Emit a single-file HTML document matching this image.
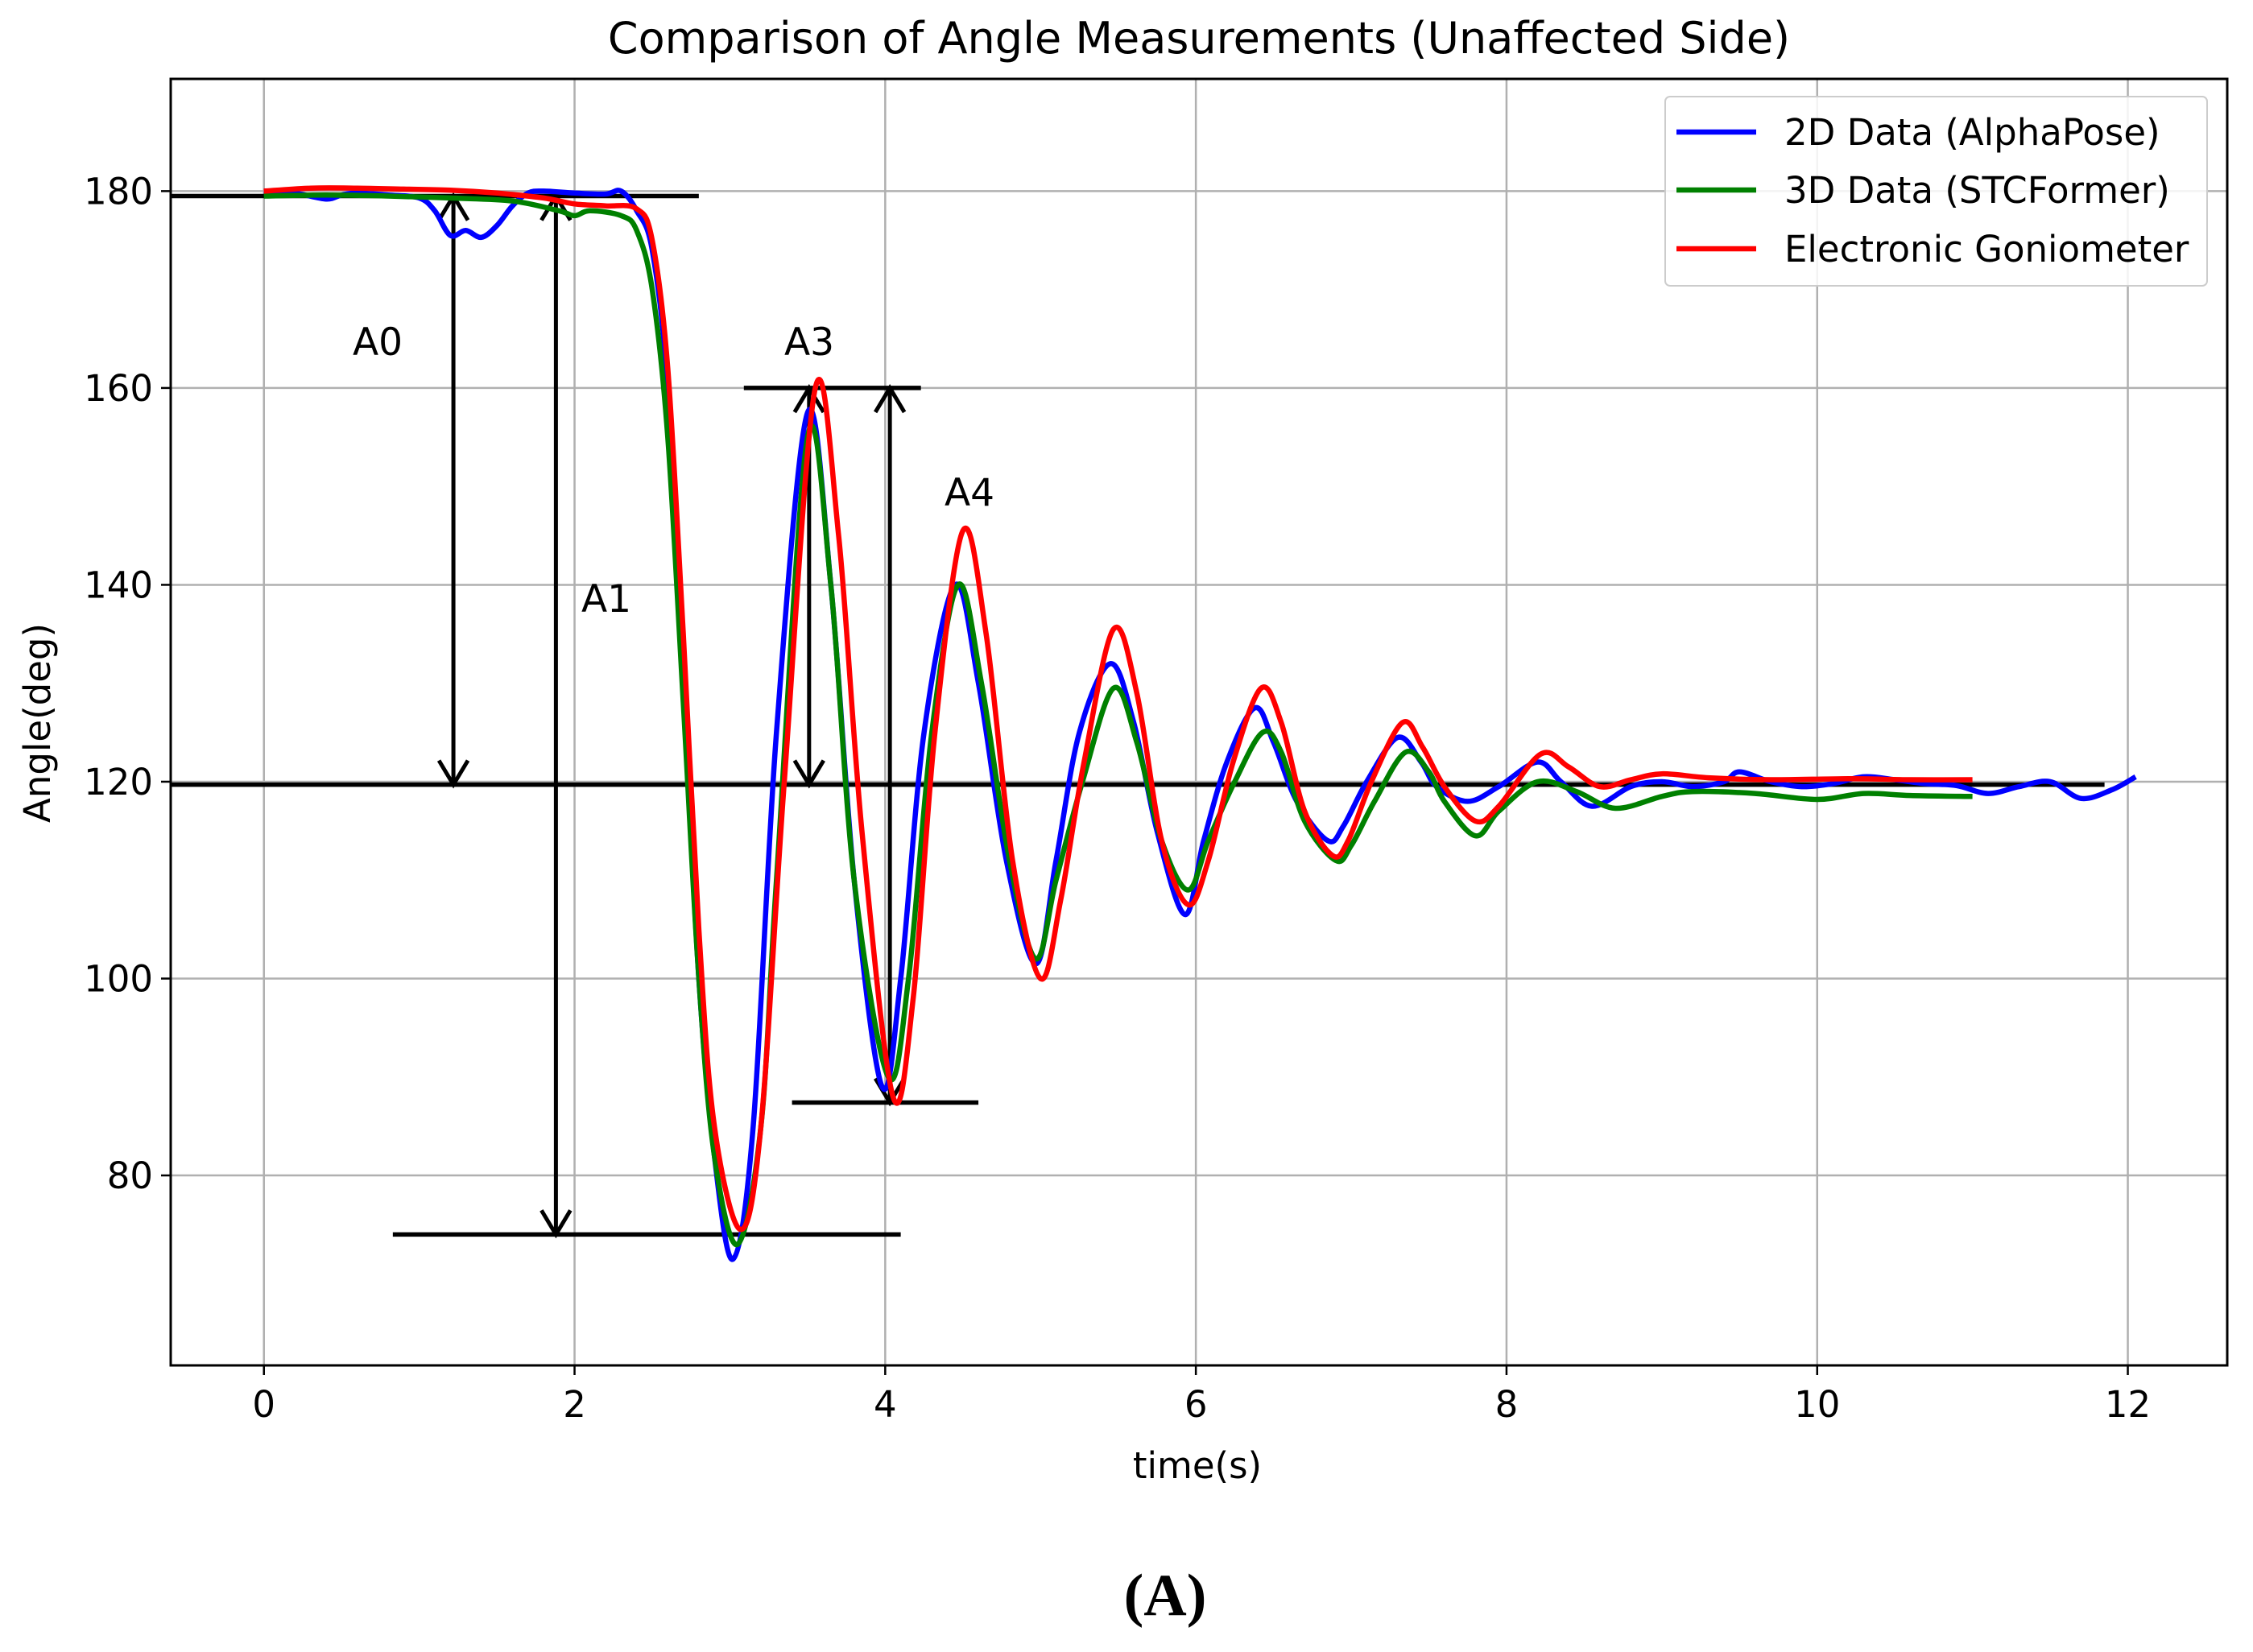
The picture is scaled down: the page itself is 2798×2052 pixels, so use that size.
<!DOCTYPE html>
<html><head><meta charset="utf-8"><style>
html,body{margin:0;padding:0;background:#fff;}
svg{display:block;}
text{font-family:"DejaVu Sans","Liberation Sans",sans-serif;}
</style></head><body>
<svg id="chart" width="2798" height="2052" viewBox="0 0 2798 2052" xmlns="http://www.w3.org/2000/svg">
<rect width="2798" height="2052" fill="#fff"/>
<g id="grid"></g>
<g id="annot"></g>
<g id="series"></g>
<rect x="212" y="98" width="2554" height="1598" fill="none" stroke="#000" stroke-width="3"/>
<g id="ticks"></g>
<text x="1489" y="66" font-size="54" text-anchor="middle">Comparison of Angle Measurements (Unaffected Side)</text>
<text x="1487" y="1836" font-size="45" text-anchor="middle">time(s)</text>
<text x="0" y="0" font-size="45" text-anchor="middle" transform="translate(62,898) rotate(-90)">Angle(deg)</text>
<text x="1447" y="2006" font-size="74" font-weight="bold" text-anchor="middle" style="font-family:'Liberation Serif',serif">(A)</text>
<g id="legend">
<rect x="2068" y="120" width="673" height="235" rx="6" fill="#fff" fill-opacity="0.85" stroke="#ccc" stroke-width="2"/>
</g>
</svg>
<script>
const xTicks=[0,2,4,6,8,10,12];
const yTicks=[80,100,120,140,160,180];
const blueT=[0,0.2,0.4,0.5,0.6,0.8,1.0,1.1,1.2,1.3,1.4,1.5,1.6,1.7,1.8,2.0,2.2,2.3,2.4,2.5,2.6,2.7,2.8,2.9,3.02,3.15,3.3,3.5,3.65,3.8,3.98,4.1,4.25,4.45,4.6,4.78,4.97,5.1,5.25,5.45,5.6,5.75,5.93,6.05,6.2,6.38,6.5,6.65,6.85,6.95,7.1,7.3,7.45,7.55,7.75,7.95,8.2,8.35,8.55,8.8,9.0,9.2,9.4,9.5,9.7,9.9,10.1,10.3,10.5,10.7,10.9,11.1,11.3,11.5,11.7,11.9,12.05];
const blueV=[180,179.8,179.2,179.6,179.8,179.6,179.3,178,175.5,176,175.3,176.5,178.5,179.8,180,179.8,179.7,180,178,174,160,130,100,82,71.5,85,125,157.5,140,110,89,100,125,140,130,112,101.5,112,125,132,126,115,106.5,114,122,127.5,124,118,114,115.5,120,124.5,122,119.5,118,119.5,122,120,117.5,119.5,120,119.5,120,121,120,119.5,119.8,120.5,120.2,119.8,119.6,118.8,119.5,120,118.3,119.2,120.5];
const greenT=[0,0.4,0.8,1.2,1.6,1.9,2.0,2.1,2.3,2.4,2.5,2.6,2.7,2.8,2.9,3.05,3.2,3.3,3.5,3.65,3.8,4.02,4.15,4.3,4.47,4.62,4.8,4.97,5.1,5.27,5.47,5.62,5.78,5.95,6.08,6.25,6.43,6.55,6.7,6.9,7.0,7.15,7.35,7.5,7.6,7.8,7.95,8.2,8.45,8.7,9.0,9.2,9.6,10.0,10.3,10.6,11.0];
const greenV=[179.5,179.6,179.5,179.3,179,178,177.5,178,177.5,176,170,155,128,100,82,73,85,110,155,140,110,90,100,125,140,130,112,102,110,120,129.5,124,114,109,114,120,125,123,116,112,113.5,118,123,121,118,114.5,117,120,119,117.3,118.5,119,118.8,118.2,118.8,118.6,118.5];
const redT=[0,0.3,0.6,0.9,1.2,1.5,1.8,2.0,2.2,2.4,2.5,2.6,2.7,2.8,2.9,3.07,3.2,3.35,3.55,3.7,3.85,4.05,4.18,4.32,4.5,4.65,4.82,5.0,5.13,5.28,5.47,5.62,5.78,5.95,6.08,6.24,6.42,6.55,6.7,6.88,6.98,7.13,7.33,7.46,7.6,7.8,7.95,8.22,8.4,8.6,8.8,9.0,9.3,9.7,10.2,10.6,11.0];
const redV=[180,180.3,180.3,180.2,180.1,179.8,179.3,178.7,178.5,178.2,175,162,135,105,85,74.5,85,120,160,145,115,88,98,125,145.5,135,112,100,108,122,135.5,129,114,107.5,112,122,129.5,126,117,112.5,114,120,126,123.5,119.5,116,117.5,122.8,121.5,119.5,120.2,120.8,120.4,120.2,120.3,120.2,120.2];

const SVGNS="http://www.w3.org/2000/svg";
const X0=212,X1=2766,Y0=98,Y1=1696;
const xmin=-0.6,xmax=12.64,ymin=60.7,ymax=191.4;
function sx(t){return X0+(t-xmin)/(xmax-xmin)*(X1-X0);}
function sy(v){return Y1-(v-ymin)/(ymax-ymin)*(Y1-Y0);}
function mk(tag,attrs,parent){const e=document.createElementNS(SVGNS,tag);for(const k in attrs)e.setAttribute(k,attrs[k]);parent.appendChild(e);return e;}
const grid=document.getElementById('grid'),ticks=document.getElementById('ticks');
xTicks.forEach(t=>{
  const l=mk('line',{x1:sx(t),x2:sx(t),y1:Y0,y2:Y1,stroke:'#b0b0b0','stroke-width':2.5},grid);
  
  
  const tk=mk('line',{x1:sx(t),x2:sx(t),y1:Y1,y2:Y1+12,stroke:'#000','stroke-width':2.5},ticks);
  
  
  const tx=mk('text',{x:sx(t),y:Y1+64,'font-size':45,'text-anchor':'middle'},ticks);
  tx.textContent=t;
  
  
});
yTicks.forEach(v=>{
  const l=mk('line',{x1:X0,x2:X1,y1:sy(v),y2:sy(v),stroke:'#b0b0b0','stroke-width':2.5},grid);
  
  
  const tk=mk('line',{x1:X0-12,x2:X0,y1:sy(v),y2:sy(v),stroke:'#000','stroke-width':2.5},ticks);
  
  
  const tx=mk('text',{x:X0-22,y:sy(v)+16,'font-size':45,'text-anchor':'end'},ticks);
  tx.textContent=v;
  
  
});
function pathFor(T,V){
  const p=T.map((t,i)=>[sx(t),sy(V[i])]);
  let d='M'+p[0][0].toFixed(1)+','+p[0][1].toFixed(1);
  for(let i=0;i<p.length-1;i++){
    const a=p[Math.max(0,i-1)],b=p[i],c=p[i+1],e=p[Math.min(p.length-1,i+2)];
    const c1=[b[0]+(c[0]-a[0])/6,b[1]+(c[1]-a[1])/6],c2=[c[0]-(e[0]-b[0])/6,c[1]-(e[1]-b[1])/6];
    d+='C'+c1.map(n=>n.toFixed(1))+' '+c2.map(n=>n.toFixed(1))+' '+c[0].toFixed(1)+','+c[1].toFixed(1);
  }
  return d;
}
const series=document.getElementById('series');
const s1=mk('path',{d:pathFor(blueT,blueV),fill:'none',stroke:'#0000ff','stroke-width':6.5,'stroke-linejoin':'round'},series);


const s2=mk('path',{d:pathFor(greenT,greenV),fill:'none',stroke:'#008000','stroke-width':6.5,'stroke-linejoin':'round'},series);


const s3=mk('path',{d:pathFor(redT,redV),fill:'none',stroke:'#ff0000','stroke-width':6.5,'stroke-linejoin':'round'},series);



const annot=document.getElementById('annot');
const hLines=[[-0.6,2.8,179.5],[-0.6,11.85,119.7],[3.09,4.23,160],[3.4,4.6,87.4],[0.83,4.1,74]];
hLines.forEach(h=>{
  const l=mk('line',{x1:sx(h[0]),x2:sx(h[1]),y1:sy(h[2]),y2:sy(h[2]),stroke:'#000','stroke-width':5.5},annot);
  
  
});
const arrows=[[1.22,179.5,119.7],[1.88,179.5,74],[3.51,160,119.7],[4.03,160,87.4]];
arrows.forEach(a=>{
  const x=sx(a[0]),ya=sy(a[1]),yb=sy(a[2]);
  const g=mk('g',{},annot);
  
  
  mk('line',{x1:x,x2:x,y1:ya,y2:yb,stroke:'#000','stroke-width':5},g);
  mk('path',{d:`M${x-18},${ya+30} L${x},${ya} L${x+18},${ya+30}`,fill:'none',stroke:'#000','stroke-width':5},g);
  mk('path',{d:`M${x-18},${yb-30} L${x},${yb} L${x+18},${yb-30}`,fill:'none',stroke:'#000','stroke-width':5},g);
});
const labels=[['A0',469,441],['A1',753,760],['A3',1005,441],['A4',1204,628]];
labels.forEach(l=>{
  const t=mk('text',{x:l[1],y:l[2],'font-size':47,'text-anchor':'middle'},annot);
  t.textContent=l[0];
  
  
});
const legend=document.getElementById('legend');
const leg=[['2D Data (AlphaPose)','#0000ff',164],['3D Data (STCFormer)','#008000',236],['Electronic Goniometer','#ff0000',309]];
leg.forEach(e=>{
  const g=mk('g',{},legend);
  
  
  mk('line',{x1:2082,x2:2181,y1:e[2],y2:e[2],stroke:e[1],'stroke-width':6.5},g);
  const t=mk('text',{x:2216,y:e[2]+16,'font-size':45},g);
  t.textContent=e[0];
});
</script>
</body></html>
